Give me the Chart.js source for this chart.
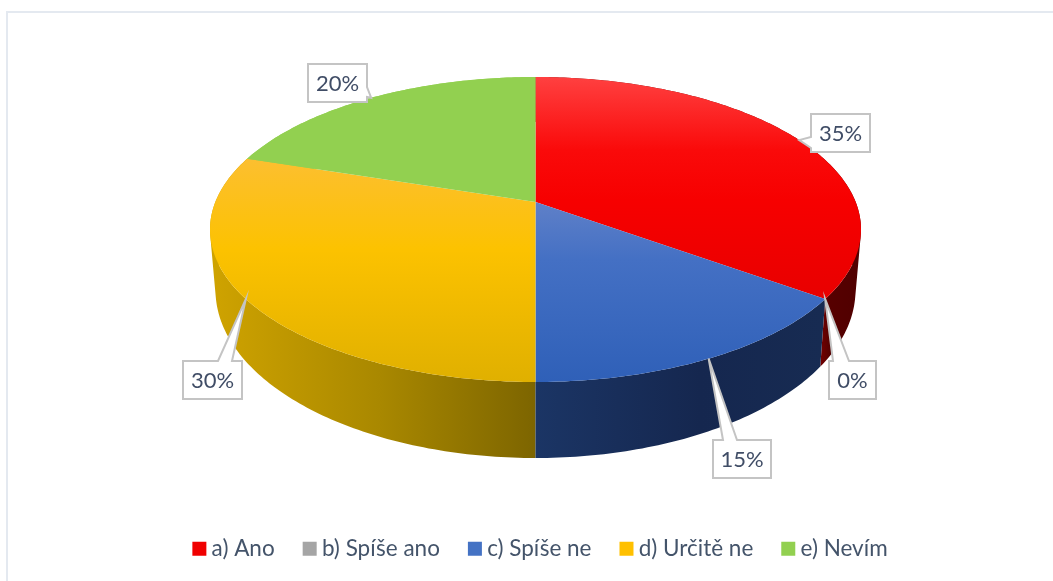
<!DOCTYPE html>
<html>
<head>
<meta charset="utf-8">
<style>
  html, body { margin: 0; padding: 0; background: #fff; }
  canvas { display: block; }
</style>
<script src="https://cdn.jsdelivr.net/npm/chart.js@4/dist/chart.umd.js"></script>
</head>
<body>
<canvas id="pie3d" width="1053" height="581"></canvas>
<script>
const categories = ["a) Ano", "b) Spíše ano", "c) Spíše ne", "d) Určitě ne", "e) Nevím"];
const shares = [35, 0, 15, 30, 20];
const baseColors = ["#f00000", "#a5a5a5", "#4472c4", "#ffc000", "#92d050"];

// lid gradients run top to bottom, wall gradients left to right (pixel, colour)
const lidStops = [
    [[77, "#ff4040"], [150, "#fa0a0a"], [200, "#f70000"], [300, "#e80000"]],
    [],
    [[202, "#5f80c8"], [260, "#4470c4"], [382, "#2f60b8"]],
    [[159, "#fcbf30"], [250, "#fcc200"], [382, "#e0b000"]],
    [[77, "#92d050"], [382, "#92d050"]],
];
const wallStops = [
    [[818, "#7a0000"], [830, "#560000"], [861, "#500000"]],
    [],
    [[535, "#1b3565"], [700, "#15274f"], [822, "#172b52"]],
    [[211, "#cfa300"], [380, "#a98800"], [535, "#7d6500"]],
    [[247, "#92d050"], [535, "#92d050"]],
];

// perspective discs: ellipse centre, radii, and foreshortening
const lidDisc = { cx: 535.5, cy: 229.5, rx: 325.5, ry: 152.5, k: 0.18 };
const baseDisc = { cx: 535.5, cy: 290, rx: 320, ry: 168, k: 0.18 };

// callout boxes: x, y, w, h, edge the leader leaves from, leader base along that edge
const callouts = [
    { x: 811, y: 114, w: 59, h: 38, edge: "left", from: 137, to: 148 },
    { x: 829, y: 361, w: 47, h: 38, edge: "top", from: 833, to: 849 },
    { x: 713, y: 440, w: 58, h: 38, edge: "top", from: 723, to: 737 },
    { x: 183, y: 361, w: 59, h: 38, edge: "top", from: 218, to: 232 },
    { x: 308, y: 64, w: 59, h: 38, edge: "right", from: 87, to: 97 },
];

function project(angle, d) {
    const u = Math.cos(angle);
    const v = -Math.sin(angle);
    const q = 1 + d.k * v;
    const a = d.rx * Math.sqrt(1 - d.k * d.k);
    const b = d.ry * (1 - d.k * d.k);
    return { x: d.cx + (a * u) / q, y: d.cy - d.k * d.ry - (b * v) / q };
}

function rim(start, end, d) {
    const n = Math.max(1, Math.ceil((end - start) / 0.015));
    const pts = [];
    for (let i = 0; i <= n; i++) {
        pts.push(project(start + ((end - start) * i) / n, d));
    }
    return pts;
}

function tracePts(ctx, pts, first) {
    pts.forEach((p, i) => {
        if (i === 0 && first) ctx.moveTo(p.x, p.y);
        else ctx.lineTo(p.x, p.y);
    });
}

// quads past the silhouette flip over, keep one winding or they cancel out
function addQuad(ctx, a, b, c, d) {
    const pts = [a, b, c, d];
    let area = 0;
    pts.forEach((p, i) => {
        const n = pts[(i + 1) % 4];
        area += p.x * n.y - n.x * p.y;
    });
    tracePts(ctx, area < 0 ? pts.reverse() : pts, true);
    ctx.closePath();
}

function gradient(ctx, stops, horizontal) {
    const a = stops[0][0];
    const b = stops[stops.length - 1][0];
    const g = horizontal
        ? ctx.createLinearGradient(a, 0, b, 0)
        : ctx.createLinearGradient(0, a, 0, b);
    stops.forEach((s) => g.addColorStop((s[0] - a) / (b - a), s[1]));
    return g;
}

function drawCallout(ctx, box, tip, text) {
    const r = box.x + box.w;
    const b = box.y + box.h;
    ctx.beginPath();
    ctx.moveTo(box.x, box.y);
    if (box.edge === "top") {
        ctx.lineTo(box.from, box.y);
        ctx.lineTo(tip.x, tip.y);
        ctx.lineTo(box.to, box.y);
    }
    ctx.lineTo(r, box.y);
    if (box.edge === "right") {
        ctx.lineTo(r, box.from);
        ctx.lineTo(tip.x, tip.y);
        ctx.lineTo(r, box.to);
    }
    ctx.lineTo(r, b);
    ctx.lineTo(box.x, b);
    if (box.edge === "left") {
        ctx.lineTo(box.x, box.to);
        ctx.lineTo(tip.x, tip.y);
        ctx.lineTo(box.x, box.from);
    }
    ctx.closePath();
    ctx.fillStyle = "#ffffff";
    ctx.fill();
    ctx.lineWidth = 2;
    ctx.lineJoin = "miter";
    ctx.strokeStyle = "#c4c4c4";
    ctx.stroke();

    ctx.fillStyle = "#404d66";
    ctx.font = "22px Lato";
    ctx.textAlign = "center";
    ctx.textBaseline = "middle";
    ctx.fillText(text, box.x + box.w / 2, box.y + box.h / 2 + 1);
}

const pie3dPlugin = {
    id: "pie3d",
    beforeDatasetsDraw(chart) {
        const ctx = chart.ctx;
        const arcs = chart.getDatasetMeta(0).data;
        const total = shares.reduce((a, b) => a + b, 0);

        // page frame, only top and left show in the reference
        ctx.save();
        ctx.fillStyle = "#e4e9f0";
        ctx.fillRect(6, 11, 1047, 2);
        ctx.fillRect(6, 11, 2, 570);

        // walls first, rim-step quads in one path so the silhouette stays straight
        [4, 3, 0, 2].forEach((i) => {
            const top = rim(arcs[i].startAngle, arcs[i].endAngle, lidDisc);
            const low = rim(arcs[i].startAngle, arcs[i].endAngle, baseDisc);
            ctx.beginPath();
            for (let s = 0; s < top.length - 1; s++) {
                addQuad(ctx, top[s], top[s + 1], low[s + 1], low[s]);
            }
            ctx.fillStyle = gradient(ctx, wallStops[i], true);
            ctx.fill();
        });

        const apex = { x: lidDisc.cx, y: lidDisc.cy - lidDisc.k * lidDisc.ry };
        arcs.forEach((arc, i) => {
            if (arc.endAngle - arc.startAngle <= 0) return;
            ctx.beginPath();
            ctx.moveTo(apex.x, apex.y);
            tracePts(ctx, rim(arc.startAngle, arc.endAngle, lidDisc), false);
            ctx.closePath();
            ctx.fillStyle = gradient(ctx, lidStops[i], false);
            ctx.fill();
        });

        arcs.forEach((arc, i) => {
            const tip = project((arc.startAngle + arc.endAngle) / 2, lidDisc);
            const pct = Math.round((shares[i] / total) * 100) + "%";
            drawCallout(ctx, callouts[i], tip, pct);
        });
        ctx.restore();
        return false;
    },
};

new Chart(document.getElementById("pie3d"), {
    type: "pie",
    data: {
        labels: categories,
        datasets: [{ data: shares, backgroundColor: baseColors, borderWidth: 0 }],
    },
    options: {
        responsive: false,
        animation: false,
        layout: { padding: { left: 33, bottom: 11 } },
        plugins: {
            tooltip: { enabled: false },
            legend: {
                position: "bottom",
                labels: {
                    usePointStyle: true,
                    pointStyle: "rect",
                    boxWidth: 2,
                    boxHeight: 14,
                    padding: 34,
                    color: "#44546a",
                    font: { family: "Lato", size: 22.5 },
                },
            },
        },
    },
    plugins: [pie3dPlugin],
});
</script>
</body>
</html>
